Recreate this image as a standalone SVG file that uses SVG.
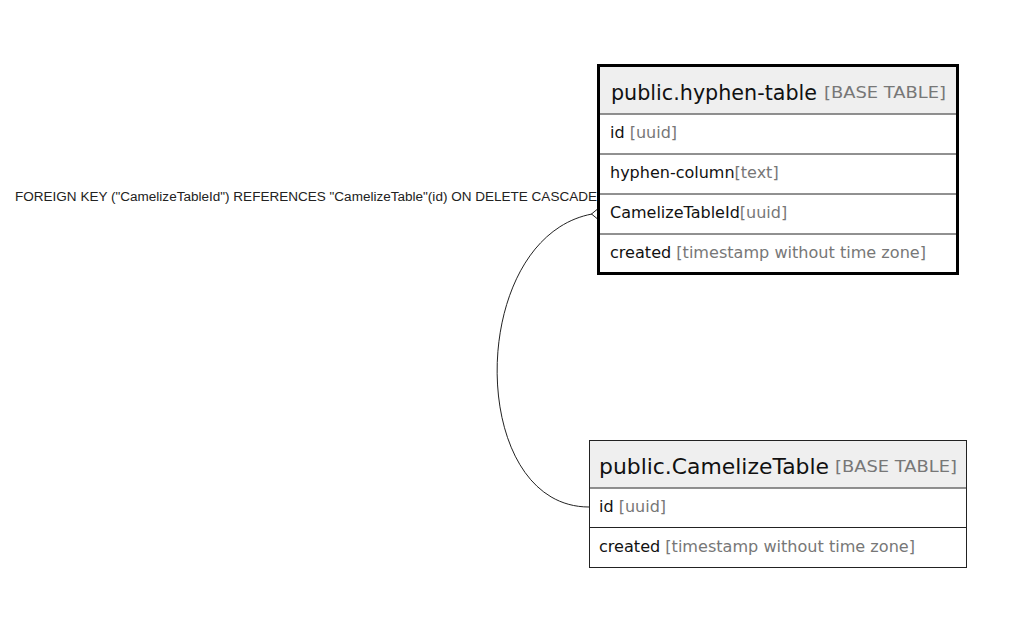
<svg xmlns="http://www.w3.org/2000/svg" width="1029" height="629" viewBox="0 0 1029 629">
<style>
.hdr{fill:#efefef}
.t{font-family:"DejaVu Sans","Liberation Sans",sans-serif;fill:#111}
.title{font-size:22px}
.typ{fill:#777}
.btype{font-size:16.5px;fill:#777}
.row{font-size:16px}
.lbl{font-family:"Liberation Sans",Arial,sans-serif;font-size:12px;fill:#222}
.line{stroke:#222;stroke-width:1;fill:none}
</style>
<rect width="1029" height="629" fill="#fff"/>
<g id="connectors">
<path class="line" d="M592,214 C466,238 466,507 589,507"/>
<path class="line" d="M597,209.5 L591.5,214 L597,218.5" stroke-width="1.8"/>
<text class="lbl" x="15" y="201" textLength="582" lengthAdjust="spacingAndGlyphs">FOREIGN KEY ("CamelizeTableId") REFERENCES "CamelizeTable"(id) ON DELETE CASCADE</text>
</g>
<g id="hyphen-table">
<rect x="598.5" y="65.5" width="359" height="48" class="hdr"/>
<line x1="598" y1="114" x2="958" y2="114" class="line"/>
<line x1="598" y1="154" x2="958" y2="154" class="line"/>
<line x1="598" y1="194" x2="958" y2="194" class="line"/>
<line x1="598" y1="234" x2="958" y2="234" class="line"/>
<rect x="598.5" y="65.5" width="359" height="208" fill="none" stroke="#000" stroke-width="3"/>
<text class="t title" x="611" y="100" textLength="206" lengthAdjust="spacingAndGlyphs">public.hyphen-table</text>
<text class="t btype" x="824" y="98" textLength="122" lengthAdjust="spacingAndGlyphs">[BASE TABLE]</text>
<text class="t row" x="610" y="138">id <tspan class="typ">[uuid]</tspan></text>
<text class="t row" x="610" y="178">hyphen-column<tspan class="typ">[text]</tspan></text>
<text class="t row" x="610" y="218">CamelizeTableId<tspan class="typ">[uuid]</tspan></text>
<text class="t row" x="610" y="258" textLength="316" lengthAdjust="spacingAndGlyphs">created <tspan class="typ">[timestamp without time zone]</tspan></text>
</g>
<g id="CamelizeTable">
<rect x="589.5" y="440.5" width="377" height="47" class="hdr"/>
<line x1="589" y1="488" x2="967" y2="488" class="line"/>
<line x1="589" y1="527.5" x2="967" y2="527.5" class="line"/>
<rect x="589.5" y="440.5" width="377" height="127" fill="none" stroke="#222" stroke-width="1"/>
<text class="t title" x="599" y="474" textLength="230" lengthAdjust="spacingAndGlyphs">public.CamelizeTable</text>
<text class="t btype" x="835" y="472" textLength="122" lengthAdjust="spacingAndGlyphs">[BASE TABLE]</text>
<text class="t row" x="599" y="512">id <tspan class="typ">[uuid]</tspan></text>
<text class="t row" x="599" y="552" textLength="316" lengthAdjust="spacingAndGlyphs">created <tspan class="typ">[timestamp without time zone]</tspan></text>
</g>
</svg>
